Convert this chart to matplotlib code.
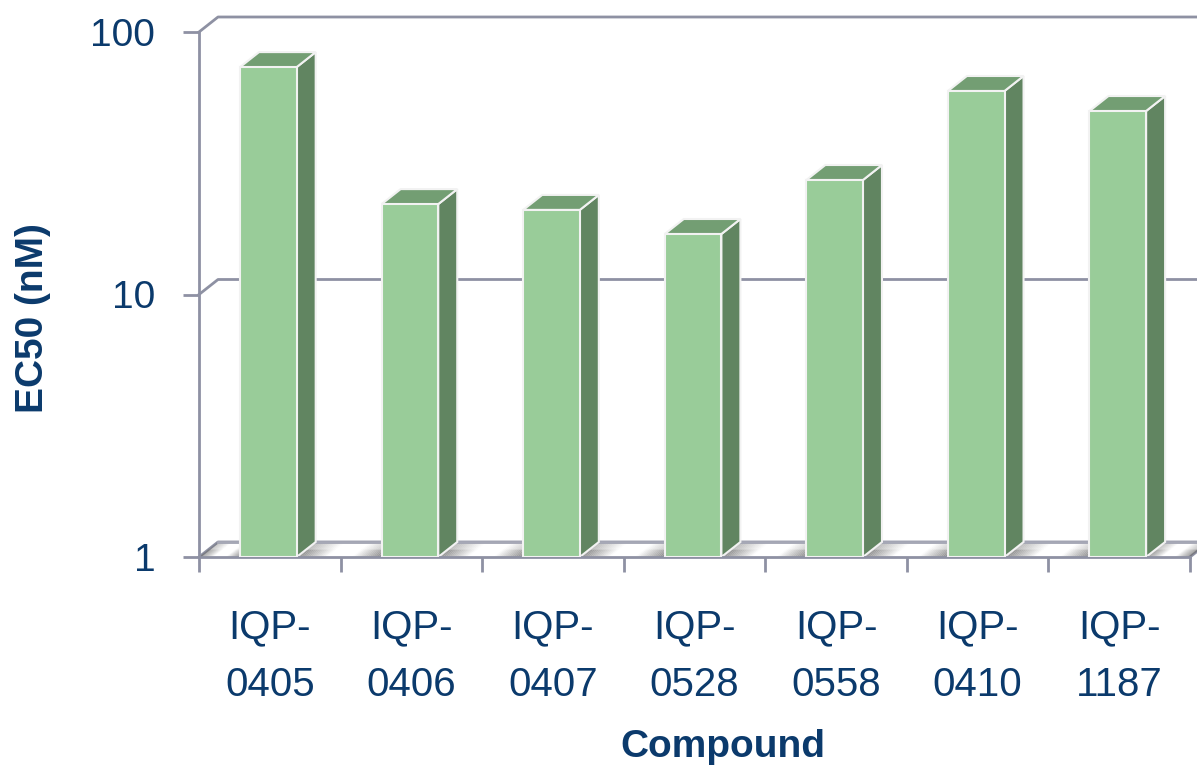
import numpy as np
import matplotlib
matplotlib.use("Agg")
import matplotlib.pyplot as plt
from matplotlib import font_manager as fm
from matplotlib.patches import Polygon
from matplotlib.transforms import IdentityTransform

# ---- data ----
compounds = ["IQP-\n0405", "IQP-\n0406", "IQP-\n0407", "IQP-\n0528",
             "IQP-\n0558", "IQP-\n0410", "IQP-\n1187"]
ec50_nM = [73.5, 22.1, 21.0, 17.0, 27.3, 59.6, 50.0]
y_ticks = [1, 10, 100]
y_tick_labels = ["1", "10", "100"]
x_label = "Compound"
y_label = "EC50 (nM)"

# ---- fonts ----
try:
    fm.findfont(fm.FontProperties(family="Liberation Sans Narrow"), fallback_to_default=False)
    FAM = ["Liberation Sans Narrow", "DejaVu Sans"]
    FS_X, FS_Y, FS_L = 33, 32.5, 32.5
except Exception:
    FAM = ["Liberation Sans", "DejaVu Sans"]
    FS_X, FS_Y, FS_L = 29, 28, 28
plt.rcParams["font.family"] = FAM

TXT = "#0b3a6c"
AX = "#8e91a3"
FRONT = "#99cc99"
SIDE = "#618561"
TOP = "#739e73"
EDGE = "#f2f2f2"

W, H = 1197, 767
fig = plt.figure(figsize=(W / 100, H / 100), dpi=100)
L, R, T, B = 199, 1190, 32, 557
ax = fig.add_axes([L / W, (H - B) / H, (R - L) / W, (B - T) / H])
ax.set_yscale("log")
n = len(compounds)
ax.set_xlim(0, n)
ax.set_ylim(1, 100)
for s in ["top", "right"]:
    ax.spines[s].set_visible(False)
ax.spines["left"].set_color(AX)
ax.spines["bottom"].set_color(AX)
ax.spines["left"].set_linewidth(2)
ax.spines["bottom"].set_linewidth(2)
ax.patch.set_alpha(0)

DX, DY = 19, 15  # depth offset in pixels


def P(x, y, d=0.0):
    px, py = ax.transData.transform((x, y))
    return (px + d * DX, py + d * DY)


ID = IdentityTransform()
fig.canvas.draw()

# back wall gridlines + connecting diagonals
for v in y_ticks:
    xs, ys = zip(P(0, v), P(0, v, 1), P(n, v, 1))
    fig.add_artist(plt.Line2D(xs, ys, transform=ID, color=AX, lw=2, zorder=1))
xs, ys = zip(P(n, 1), P(n, 1, 1))
fig.add_artist(plt.Line2D(xs, ys, transform=ID, color=AX, lw=2, zorder=1))

# floor shading between bars (stripes approximating gradient)
bw = 0.40
off = 0.29
starts = [0.0] + [i + off + bw for i in range(n)]
ends = [i + off for i in range(n)] + [float(n)]
NS = 40
for a, b in zip(starts, ends):
    if b - a <= 0:
        continue
    for k in range(NS):
        t0, t1 = k / NS, (k + 1) / NS
        tm = (t0 + t1) / 2
        alpha = max(0.0, 0.8 * (1 - tm / 0.35)) + max(0.0, 0.85 * (tm - 0.65) / 0.35)
        if alpha <= 0:
            continue
        x0 = a + (b - a) * t0
        x1 = a + (b - a) * t1
        for d0, d1, f in [(0.0, 0.5, 1.0), (0.5, 1.0, 0.6)]:
            poly = [P(x0, 1, d0), P(x1, 1, d0), P(x1, 1, d1), P(x0, 1, d1)]
            fig.add_artist(Polygon(poly, closed=True, transform=ID, fc="#6e6e6e",
                                   alpha=min(1.0, alpha * f), ec="none", lw=0,
                                   zorder=1.5))
xs, ys = zip(P(0, 1, 1), P(n, 1, 1))
fig.add_artist(plt.Line2D(xs, ys, transform=ID, color="#a6a8b6", lw=2, zorder=1.6))

# bars
for i, v in enumerate(ec50_nM):
    x0 = i + off
    x1 = x0 + bw
    side = [P(x1, 1), P(x1, 1, 1), P(x1, v, 1), P(x1, v)]
    top = [P(x0, v), P(x1, v), P(x1, v, 1), P(x0, v, 1)]
    fig.add_artist(Polygon(side, closed=True, transform=ID, fc=SIDE, ec=EDGE, lw=1.5, zorder=2))
    fig.add_artist(Polygon(top, closed=True, transform=ID, fc=TOP, ec=EDGE, lw=1.5, zorder=2))
ax.bar([i + off + bw / 2 for i in range(n)], [v - 1 for v in ec50_nM], bottom=1,
       width=bw, color=FRONT, edgecolor=EDGE, linewidth=1.5, zorder=3)
ax.set_zorder(3)

# ticks
ax.set_yticks(y_ticks)
ax.set_yticklabels(y_tick_labels)
ax.yaxis.set_minor_locator(matplotlib.ticker.NullLocator())
ax.tick_params(axis="y", which="major", direction="out", length=11.5, width=2,
               color=AX, pad=20, labelsize=FS_Y, labelcolor=TXT)
ax.set_xticks(range(n + 1))
ax.set_xticklabels([""] * (n + 1))
ax.tick_params(axis="x", which="major", direction="out", length=11, width=2, color=AX)
ax.set_xticks([i + 0.5 for i in range(n)], minor=True)
ax.set_xticklabels(compounds, minor=True)
ax.tick_params(axis="x", which="minor", length=0, pad=37, labelsize=FS_X,
               labelcolor=TXT)
for lab in ax.get_xticklabels(minor=True):
    lab.set_linespacing(1.65)

fig.text(723 / W, 1 - 757 / H, x_label, ha="center", va="baseline",
         fontsize=FS_L, fontweight="bold", color=TXT)
fig.text(33 / W, 1 - 318 / H, y_label, ha="center", va="center", rotation=90,
         fontsize=FS_L, fontweight="bold", color=TXT)

fig.savefig("out.png", dpi=100)
